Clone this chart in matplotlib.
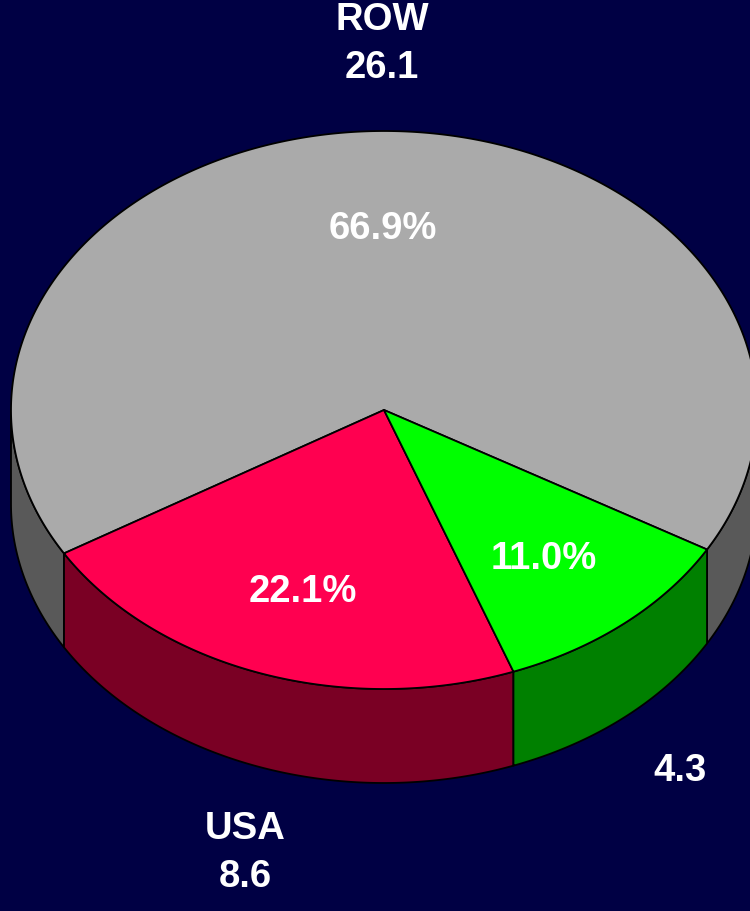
import numpy as np
import matplotlib
matplotlib.use("Agg")
import matplotlib.pyplot as plt
from matplotlib.patches import Polygon

# data
names = ["ROW", "USA", ""]
values = [26.1, 8.6, 4.3]
top_colors = ["#aaaaaa", "#ff0050", "#00ff00"]
side_colors = ["#595959", "#7a0024", "#008000"]

bg = "#000044"

# layout (pixels)
CX, CY = 384, 410
RX, RY = 373, 279
DEPTH = 94
START = -30.0
name_pos = [(382, 44), (245, 853), (680, 771)]

fig = plt.figure(figsize=(7.5, 9.11), dpi=100, facecolor=bg)
ax = fig.add_axes([0, 0, 1, 1])
ax.set_facecolor(bg)
ax.set_xlim(0, 750)
ax.set_ylim(911, 0)
ax.axis("off")

total = sum(values)
fracs = [v / total for v in values]
bounds = [START]
for f in fracs:
    bounds.append(bounds[-1] + f * 360)


def arc(a, b, dz=0, n=200):
    th = np.linspace(a, b, n)
    t = np.radians(th)
    return np.column_stack([CX + RX * np.cos(t), CY - RY * np.sin(t) + dz])


lw = 1.3
# side walls (front half only)
for i in range(len(values)):
    a, b = bounds[i], bounds[i + 1]
    for k in range(-1, 3):
        lo = max(a, 180 + 360 * k)
        hi = min(b, 360 + 360 * k)
        if hi <= lo:
            continue
        top = arc(lo, hi)
        bot = arc(hi, lo, DEPTH)
        poly = Polygon(np.vstack([top, bot]), closed=True, facecolor=side_colors[i],
                       edgecolor="black", linewidth=lw, joinstyle="round", zorder=1)
        ax.add_patch(poly)

# top faces
for i in range(len(values)):
    a, b = bounds[i], bounds[i + 1]
    pts = np.vstack([[CX, CY], arc(a, b, n=400)])
    poly = Polygon(pts, closed=True, facecolor=top_colors[i], edgecolor="black",
                   linewidth=lw, joinstyle="round", zorder=2)
    ax.add_patch(poly)

font = dict(family=["Liberation Sans", "DejaVu Sans"], fontweight="bold", color="white",
            fontsize=27.5, ha="center", va="center")

# percentage labels
for i in range(len(values)):
    mid = (bounds[i] + bounds[i + 1]) / 2
    x, y = CX + 0.66 * RX * np.cos(np.radians(mid)), CY - 0.66 * RY * np.sin(np.radians(mid))
    ax.text(x + 1, y + 8 if i else y + 3, f"{fracs[i] * 100:.1f}%", zorder=5, **font)

# name / value labels
for i in range(len(values)):
    label = f"{names[i]}\n{values[i]}" if names[i] else f"{values[i]}"
    x, y = name_pos[i]
    ax.text(x, y, label, linespacing=1.42, zorder=5, **font)

fig.savefig("out.png", dpi=100, facecolor=bg)
